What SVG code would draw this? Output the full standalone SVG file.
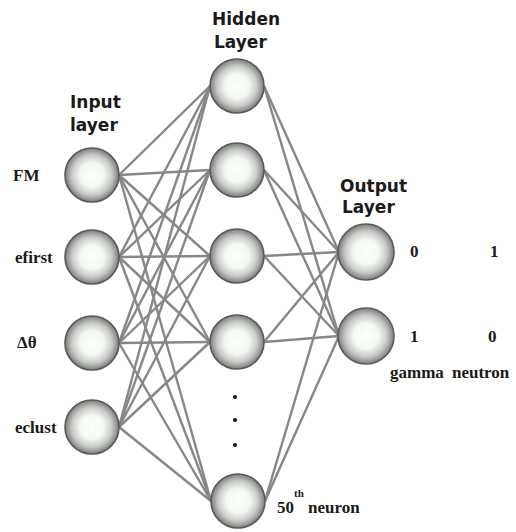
<svg xmlns="http://www.w3.org/2000/svg" width="516" height="532" viewBox="0 0 516 532">
<style>
.layer{font-family:"DejaVu Sans",Verdana,sans-serif;font-weight:bold;font-size:17px;fill:#1a1a1a}
.lab{font-family:"Liberation Serif","Times New Roman",serif;font-weight:bold;font-size:17px;fill:#1a1a1a}
.n{fill:url(#ball);stroke:#5a5a5a;stroke-width:1.6}
.c line{stroke:#878787;stroke-width:2.4}
</style>
<defs>
<radialGradient id="ball" cx="50%" cy="50%" r="50%">
<stop offset="0" stop-color="#ffffff"/>
<stop offset="0.45" stop-color="#f3f9f1"/>
<stop offset="0.75" stop-color="#c6c8c5"/>
<stop offset="1" stop-color="#7c7c7c"/>
</radialGradient>
</defs>
<rect width="516" height="532" fill="#ffffff"/>
<g id="connectors" class="c">
<line x1="119" y1="175" x2="210" y2="86"/><line x1="119" y1="175" x2="210" y2="170"/><line x1="119" y1="175" x2="210" y2="256"/><line x1="119" y1="175" x2="210" y2="342"/><line x1="119" y1="175" x2="211" y2="501"/>
<line x1="119" y1="257" x2="210" y2="86"/><line x1="119" y1="257" x2="210" y2="170"/><line x1="119" y1="257" x2="210" y2="256"/><line x1="119" y1="257" x2="210" y2="342"/><line x1="119" y1="257" x2="211" y2="501"/>
<line x1="119" y1="343" x2="210" y2="86"/><line x1="119" y1="343" x2="210" y2="170"/><line x1="119" y1="343" x2="210" y2="256"/><line x1="119" y1="343" x2="210" y2="342"/><line x1="119" y1="343" x2="211" y2="501"/>
<line x1="119" y1="427" x2="210" y2="86"/><line x1="119" y1="427" x2="210" y2="170"/><line x1="119" y1="427" x2="210" y2="256"/><line x1="119" y1="427" x2="210" y2="342"/><line x1="119" y1="427" x2="211" y2="501"/>
<line x1="264" y1="86" x2="339" y2="252"/><line x1="264" y1="86" x2="339" y2="336"/>
<line x1="264" y1="170" x2="339" y2="252"/><line x1="264" y1="170" x2="339" y2="336"/>
<line x1="264" y1="256" x2="339" y2="252"/><line x1="264" y1="256" x2="339" y2="336"/>
<line x1="264" y1="342" x2="339" y2="252"/><line x1="264" y1="342" x2="339" y2="336"/>
<line x1="265" y1="501" x2="339" y2="252"/><line x1="265" y1="501" x2="339" y2="336"/>
</g>
<g id="title-hidden"><text class="layer" x="212" y="25">Hidden</text><text class="layer" x="214" y="48">Layer</text></g>
<g id="title-input"><text class="layer" x="70" y="108">Input</text><text class="layer" x="70" y="131">layer</text></g>
<g id="title-output"><text class="layer" x="340" y="192">Output</text><text class="layer" x="342" y="213">Layer</text></g>
<g id="in-FM"><circle class="n" cx="92" cy="175" r="27"/><text class="lab" x="13" y="181">FM</text></g>
<g id="in-efirst"><circle class="n" cx="92" cy="257" r="27"/><text class="lab" x="15" y="263">efirst</text></g>
<g id="in-dtheta"><circle class="n" cx="92" cy="343" r="27"/><text class="lab" x="17" y="348">Δθ</text></g>
<g id="in-eclust"><circle class="n" cx="92" cy="427" r="27"/><text class="lab" x="15" y="433">eclust</text></g>
<g id="h1"><circle class="n" cx="237" cy="86" r="27"/></g>
<g id="h2"><circle class="n" cx="237" cy="170" r="27"/></g>
<g id="h3"><circle class="n" cx="237" cy="256" r="27"/></g>
<g id="h4"><circle class="n" cx="237" cy="342" r="27"/></g>
<g id="dots" fill="#111"><circle cx="235" cy="397" r="2"/><circle cx="235" cy="420" r="2"/><circle cx="235" cy="445" r="2"/></g>
<g id="h50"><circle class="n" cx="238" cy="501" r="27"/><text class="lab" x="277" y="513" font-size="16">50<tspan font-size="11" dy="-16">th</tspan><tspan dy="16"> neuron</tspan></text></g>
<g id="out1"><circle class="n" cx="366" cy="252" r="28"/><text class="lab" x="410" y="257">0</text><text class="lab" x="490" y="257">1</text></g>
<g id="out2"><circle class="n" cx="366" cy="336" r="28"/><text class="lab" x="410" y="342">1</text><text class="lab" x="488" y="342">0</text></g>
<g id="classes"><text class="lab" x="390" y="378" font-size="14">gamma</text><text class="lab" x="452" y="378" font-size="14">neutron</text></g>
</svg>
